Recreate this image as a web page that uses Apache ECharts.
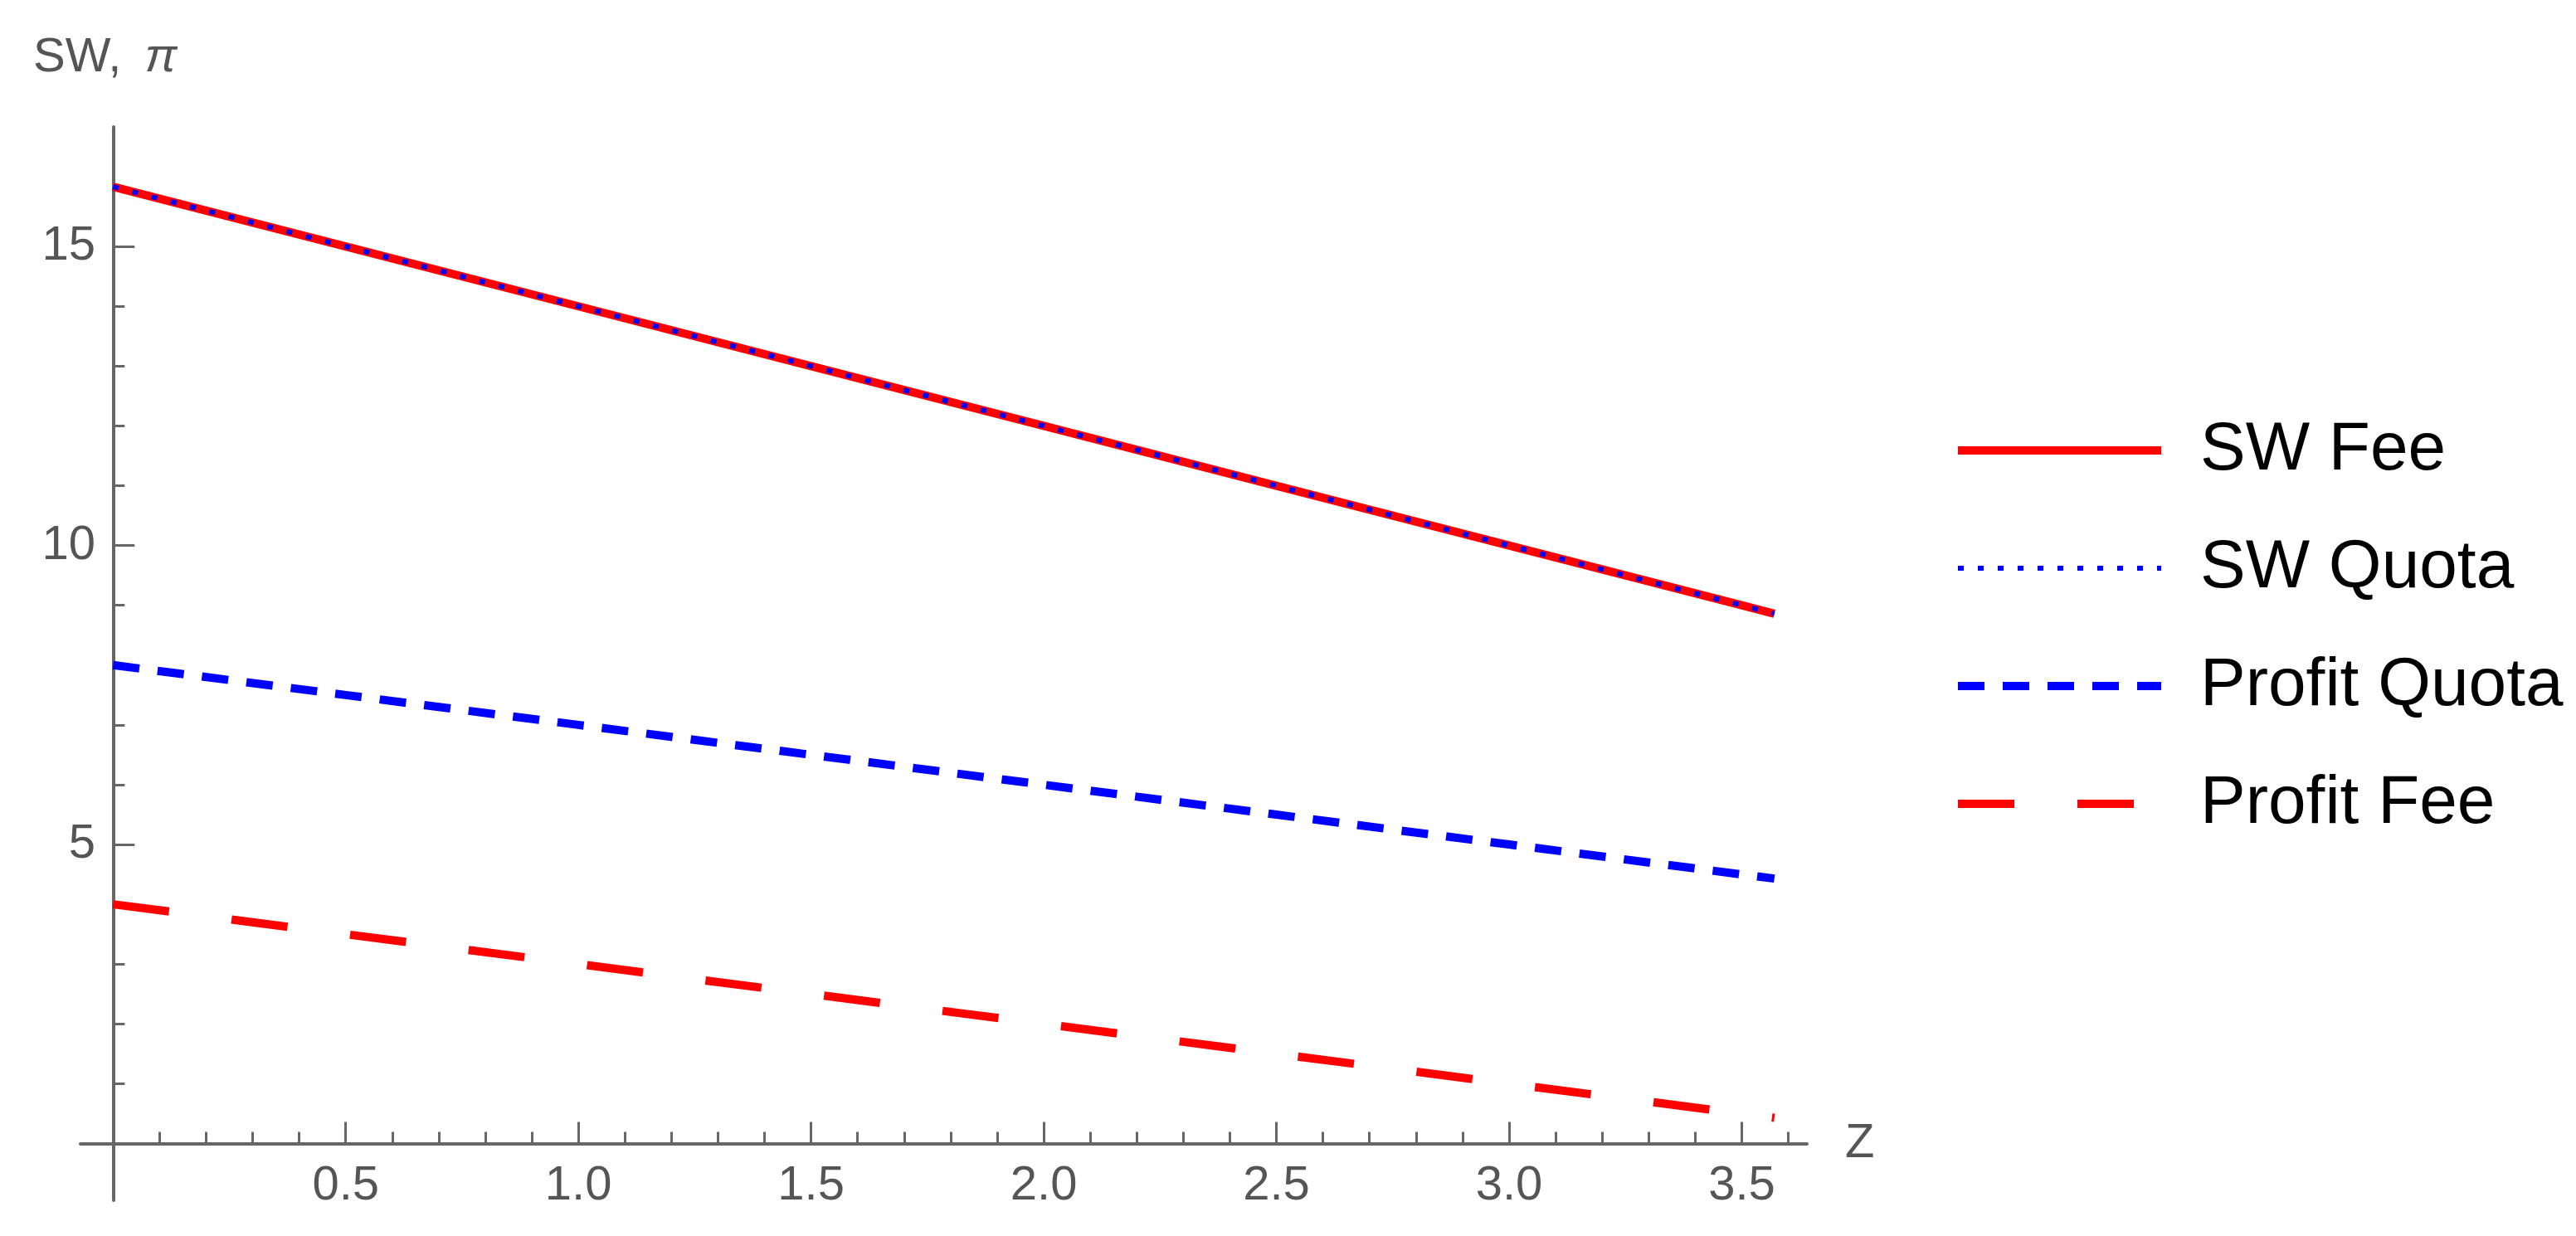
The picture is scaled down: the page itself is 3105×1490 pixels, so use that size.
<!DOCTYPE html>
<html>
<head>
<meta charset="utf-8">
<script src="https://cdn.jsdelivr.net/npm/echarts@6/dist/echarts.min.js"></script>
<style>
  html, body { margin: 0; padding: 0; background: #fff; }
  #chart { width: 3105px; height: 1490px; }
</style>
</head>
<body>
<div id="chart"></div>
<script>
// ---- data ----
const zValues     = [0, 0.5, 1.0, 1.5, 2.0, 2.5, 3.0, 3.5, 3.57];
const swFee       = [16, 15, 14, 13, 12, 11, 10, 9, 8.86];
const swQuota     = [16, 15, 14, 13, 12, 11, 10, 9, 8.86];
const profitQuota = [8, 7.5, 7, 6.5, 6, 5.5, 5, 4.5, 4.43];
const profitFee   = [4, 3.5, 3, 2.5, 2, 1.5, 1, 0.5, 0.43];

const seriesNames = ['SW Fee', 'SW Quota', 'Profit Quota', 'Profit Fee'];

const xMajorTicks = [0.5, 1.0, 1.5, 2.0, 2.5, 3.0, 3.5];
const xMinorTicks = [0.1, 0.2, 0.3, 0.4, 0.6, 0.7, 0.8, 0.9, 1.1, 1.2, 1.3, 1.4,
                     1.6, 1.7, 1.8, 1.9, 2.1, 2.2, 2.3, 2.4, 2.6, 2.7, 2.8, 2.9,
                     3.1, 3.2, 3.3, 3.4, 3.6];
const yMajorTicks = [5, 10, 15];
const yMinorTicks = [1, 2, 3, 4, 6, 7, 8, 9, 11, 12, 13, 14, 16];

const xName = 'Z';
const yName = 'SW, ';
const yNameSymbol = 'π';

// ---- helpers ----
const pairs = ys => zValues.map((z, i) => [z, ys[i]]);
const FONT = '"Liberation Sans", Arial, sans-serif';
const AXIS_COLOR = '#666666';
const LABEL_COLOR = '#555555';

const chart = echarts.init(document.getElementById('chart'), null, { renderer: 'canvas' });

const xRange = { min: -0.07, max: 3.64 };
const yRange = { min: -0.95, max: 17 };

const option = {
  animation: false,
  backgroundColor: '#ffffff',
  title: {
    text: '{a|' + yName + '}{b|' + yNameSymbol + '}',
    left: 40,
    top: 41,
    padding: 0,
    textStyle: {
      fontWeight: 'normal',
      rich: {
        a: { fontSize: 58, lineHeight: 58, color: LABEL_COLOR, fontFamily: FONT, fontWeight: 'normal' },
        b: { fontSize: 58, lineHeight: 58, color: LABEL_COLOR, fontFamily: FONT, fontWeight: 'normal', fontStyle: 'italic', padding: [0, 0, 0, 12] }
      }
    }
  },
  grid: { left: 97, right: 927, top: 153, bottom: 43, containLabel: false },
  legend: {
    orient: 'vertical',
    left: 2355,
    top: 502,
    padding: 0,
    itemWidth: 245,
    itemHeight: 14,
    itemGap: 60,
    data: seriesNames,
    itemStyle: { opacity: 0 },
    lineStyle: { width: 'inherit', type: 'inherit', cap: 'butt' },
    textStyle: {
      fontSize: 82,
      lineHeight: 82,
      color: '#000000',
      fontFamily: FONT,
      padding: [0, 0, 0, 42]
    }
  },
  xAxis: [
    {
      type: 'value',
      min: xRange.min,
      max: xRange.max,
      position: 'bottom',
      name: xName,
      nameLocation: 'end',
      nameGap: 46,
      nameTextStyle: { fontSize: 58, color: LABEL_COLOR, fontFamily: FONT, verticalAlign: 'middle' },
      axisLine: { show: true, onZero: true, onZeroAxisIndex: 0, lineStyle: { color: AXIS_COLOR, width: 4 } },
      axisTick: { show: true, inside: true, length: 26, customValues: xMajorTicks, lineStyle: { color: AXIS_COLOR, width: 3 } },
      axisLabel: {
        show: true, customValues: xMajorTicks, margin: -46,
        fontSize: 58, lineHeight: 58, color: LABEL_COLOR, fontFamily: FONT,
        formatter: v => Number(v).toFixed(1)
      },
      splitLine: { show: false }
    },
    {
      type: 'value',
      min: xRange.min,
      max: xRange.max,
      position: 'bottom',
      axisLine: { show: false, onZero: true, onZeroAxisIndex: 0 },
      axisTick: { show: true, inside: true, length: 14, customValues: xMinorTicks, lineStyle: { color: AXIS_COLOR, width: 3 } },
      axisLabel: { show: false },
      splitLine: { show: false }
    }
  ],
  yAxis: [
    {
      type: 'value',
      min: yRange.min,
      max: yRange.max,
      position: 'left',
      axisLine: { show: true, onZero: true, onZeroAxisIndex: 0, lineStyle: { color: AXIS_COLOR, width: 4 } },
      axisTick: { show: true, inside: true, length: 26, customValues: yMajorTicks, lineStyle: { color: AXIS_COLOR, width: 3 } },
      axisLabel: {
        show: true, customValues: yMajorTicks, margin: -18,
        fontSize: 58, lineHeight: 58, color: LABEL_COLOR, fontFamily: FONT,
        padding: [0, 0, 10, 0],
        formatter: v => String(v)
      },
      splitLine: { show: false }
    },
    {
      type: 'value',
      min: yRange.min,
      max: yRange.max,
      position: 'left',
      axisLine: { show: false, onZero: true, onZeroAxisIndex: 0 },
      axisTick: { show: true, inside: true, length: 14, customValues: yMinorTicks, lineStyle: { color: AXIS_COLOR, width: 3 } },
      axisLabel: { show: false },
      splitLine: { show: false }
    }
  ],
  series: [
    {
      name: seriesNames[0], type: 'line', xAxisIndex: 0, yAxisIndex: 0,
      data: pairs(swFee), symbol: 'none', showSymbol: false,
      lineStyle: { color: '#ff0000', width: 10, type: 'solid', cap: 'butt' },
      itemStyle: { color: '#ff0000' }
    },
    {
      name: seriesNames[1], type: 'line', xAxisIndex: 0, yAxisIndex: 0,
      data: pairs(swQuota), symbol: 'none', showSymbol: false,
      lineStyle: { color: '#0000ff', width: 6, type: [7, 17], cap: 'butt' },
      itemStyle: { color: '#0000ff' }
    },
    {
      name: seriesNames[2], type: 'line', xAxisIndex: 0, yAxisIndex: 0,
      data: pairs(profitQuota), symbol: 'none', showSymbol: false,
      lineStyle: { color: '#0000ff', width: 10, type: [32, 22], cap: 'butt' },
      itemStyle: { color: '#0000ff' }
    },
    {
      name: seriesNames[3], type: 'line', xAxisIndex: 0, yAxisIndex: 0,
      data: pairs(profitFee), symbol: 'none', showSymbol: false,
      lineStyle: { color: '#ff0000', width: 10, type: [68, 76], cap: 'butt' },
      itemStyle: { color: '#ff0000' }
    }
  ]
};

chart.setOption(option);
</script>
</body>
</html>
